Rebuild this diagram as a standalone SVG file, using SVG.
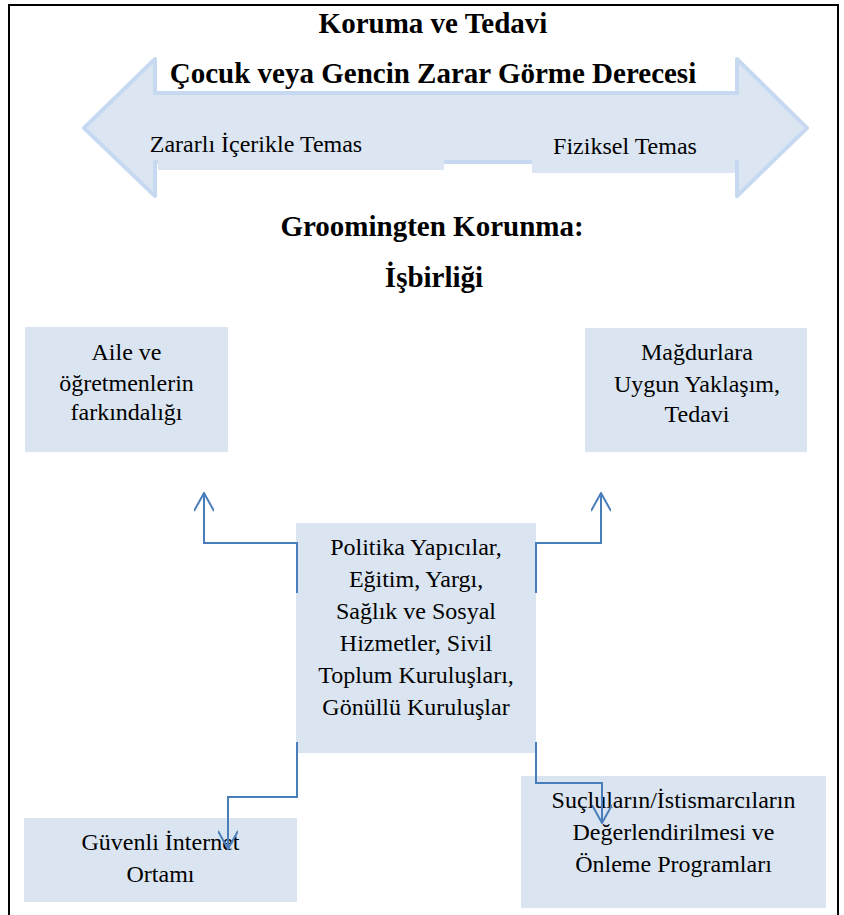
<svg xmlns="http://www.w3.org/2000/svg" width="844" height="915" viewBox="0 0 844 915">
<style>
.t{font-family:"Liberation Serif",Tinos,"Times New Roman","DejaVu Serif",serif;fill:#000;text-anchor:middle}
.b{font-weight:bold;font-size:29px}
.r{font-size:24px}
.box{fill:#dbe5f1}
.con{fill:none;stroke:#4a7ebb;stroke-width:2}
</style>
<defs>
<marker id="ah" viewBox="0 0 20 20" refX="19" refY="10" markerWidth="20" markerHeight="20" markerUnits="userSpaceOnUse" orient="auto">
<path d="M1,0 L19,10 L1,20" fill="none" stroke="#4a7ebb" stroke-width="2"/>
</marker>
</defs>
<rect width="844" height="915" fill="#fff"/>
<g id="page-border" fill="none" stroke="#000" stroke-width="2">
<path d="M9,915 V5 H838 V915"/>
</g>
<g id="title">
<text class="t b" x="433" y="33" font-family="Liberation Serif, serif">Koruma ve Tedavi</text>
</g>
<g id="harm-arrow">
<polygon points="84,128 155,59 155,93 737,93 737,59 807,128 737,196 737,162 155,162 155,196" fill="#dce6f2" stroke="#c6d9f1" stroke-width="4" stroke-linejoin="round"/>
<rect x="158" y="110" width="286" height="60" fill="#dce6f2"/>
<rect x="532" y="110" width="203" height="63" fill="#dce6f2"/>
<text class="t b" x="433" y="83" font-family="Liberation Serif, serif">Çocuk veya Gencin Zarar Görme Derecesi</text>
<text class="t r" x="256" y="152" font-family="Liberation Serif, serif">Zararlı İçerikle Temas</text>
<text class="t r" x="625" y="154" font-family="Liberation Serif, serif">Fiziksel Temas</text>
</g>
<g id="heading" font-family="Liberation Serif, serif">
<text class="t b" x="432" y="236" font-family="Liberation Serif, serif">Groomingten Korunma:</text>
<text class="t b" x="434" y="287" font-family="Liberation Serif, serif">İşbirliği</text>
</g>
<g id="node-aile" font-family="Liberation Serif, serif">
<rect class="box" x="25" y="327" width="203" height="125"/>
<text class="t r" x="126.5" y="360" font-family="Liberation Serif, serif">Aile ve</text>
<text class="t r" x="126.5" y="391" font-family="Liberation Serif, serif">öğretmenlerin</text>
<text class="t r" x="126.5" y="420" font-family="Liberation Serif, serif">farkındalığı</text>
</g>
<g id="node-magdur">
<rect class="box" x="585" y="328" width="222" height="124"/>
<text class="t r" x="697" y="360" font-family="Liberation Serif, serif">Mağdurlara</text>
<text class="t r" x="697" y="392" font-family="Liberation Serif, serif">Uygun Yaklaşım,</text>
<text class="t r" x="697" y="422" font-family="Liberation Serif, serif">Tedavi</text>
</g>
<g id="node-center">
<rect class="box" x="296" y="523" width="240" height="230"/>
<text class="t r" x="416" y="555" font-family="Liberation Serif, serif">Politika Yapıcılar,</text>
<text class="t r" x="416" y="587" font-family="Liberation Serif, serif">Eğitim, Yargı,</text>
<text class="t r" x="416" y="619" font-family="Liberation Serif, serif">Sağlık ve Sosyal</text>
<text class="t r" x="416" y="651" font-family="Liberation Serif, serif">Hizmetler, Sivil</text>
<text class="t r" x="416" y="683" font-family="Liberation Serif, serif">Toplum Kuruluşları,</text>
<text class="t r" x="416" y="715" font-family="Liberation Serif, serif">Gönüllü Kuruluşlar</text>
</g>
<g id="node-internet">
<rect class="box" x="24" y="818" width="273" height="84"/>
<text class="t r" x="160.5" y="850" font-family="Liberation Serif, serif">Güvenli İnternet</text>
<text class="t r" x="160.5" y="882" font-family="Liberation Serif, serif">Ortamı</text>
</g>
<g id="node-suclu">
<rect class="box" x="521" y="776" width="305" height="132"/>
<text class="t r" x="673.5" y="808" font-family="Liberation Serif, serif">Suçluların/İstismarcıların</text>
<text class="t r" x="673.5" y="840" font-family="Liberation Serif, serif">Değerlendirilmesi ve</text>
<text class="t r" x="673.5" y="872" font-family="Liberation Serif, serif">Önleme Programları</text>
</g>
<g id="connectors">
<path class="con" d="M297,593 V543 H204 V493" marker-end="url(#ah)"/>
<path class="con" d="M536,593 V543 H601 V493" marker-end="url(#ah)"/>
<path class="con" d="M297,742 V797 H228 V849" marker-end="url(#ah)"/>
<path class="con" d="M536,742 V783 H602 V823" marker-end="url(#ah)"/>
</g>
</svg>
